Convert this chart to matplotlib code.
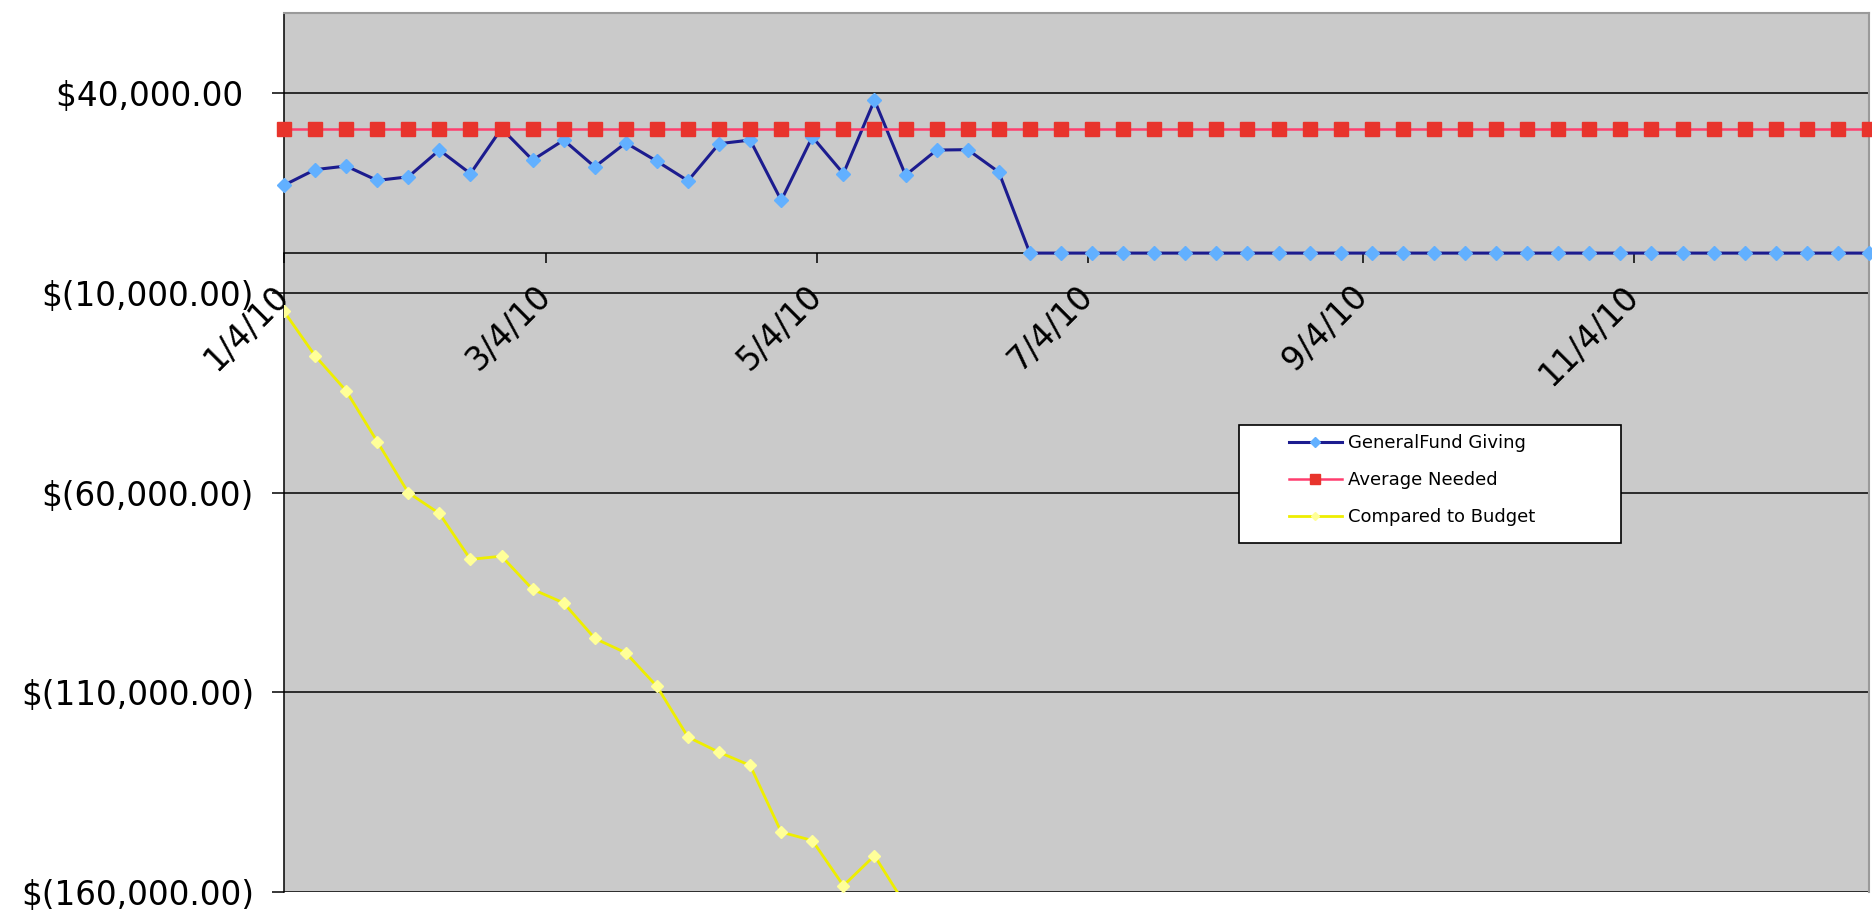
import matplotlib.pyplot as plt
import matplotlib.dates as mdates
from matplotlib.patches import Rectangle
from matplotlib.ticker import FuncFormatter
import pandas as pd

# weekly entries, 2010
dates = pd.date_range("2010-01-04", periods=52, freq="7D")

giving = [17000, 20900, 21800, 18200, 19100, 25800, 19900, 31200, 23300, 28300,
          21600, 27600, 23000, 18100, 27400, 28300, 13200, 29100, 19900, 38300,
          19500, 25800, 25900, 20300, 0] + [0] * 27
needed = [31000] * 52
# only the part above the bottom of the chart is visible
budget = [-14600, -25700, -34500, -47200, -60000, -65200, -76700, -75900, -84200, -87600,
          -96500, -100100, -108500, -121200, -125000, -128300, -145000, -147100, -158400, -150900,
          -163300]

labels = ["GeneralFund Giving", "Average Needed", "Compared to Budget"]
yticks = [-160000, -110000, -60000, -10000, 40000]
fz = 23.5


def money(v, pos):
    if v < 0:
        return "$({:,.2f})".format(abs(v))
    return "${:,.2f} ".format(v)


def short_date(v, pos):
    d = mdates.num2date(v)
    return "{}/{}/{}".format(d.month, d.day, d.strftime("%y"))


fig = plt.figure(figsize=(18.72, 9.18), dpi=100)
ax = fig.add_axes([0.1517, 0.0283, 0.8467, 0.957])
ax.set_facecolor('#cacaca')

ax.plot(dates, giving, color='#1c1c8f', lw=2.2, marker='D', ms=7,
        mfc='#62b0ff', mec='#62b0ff', label=labels[0], clip_on=False, zorder=3)
ax.plot(dates, needed, color='#ff3d6e', lw=1.8, marker='s', ms=10,
        mfc='#e8342c', mec='#e8342c', label=labels[1], clip_on=False, zorder=3)
ax.plot(dates[:len(budget)], budget, color='#eeee00', lw=2, marker='D', ms=6,
        mfc='#ffff99', mec='#ffff99', label=labels[2], zorder=3)

ax.set_xlim(dates[0], dates[-1])
ax.set_ylim(-160000, 60000)
ax.set_yticks(yticks)
ax.yaxis.set_major_formatter(FuncFormatter(money))
ax.grid(axis='y', color='black', lw=1.1)
ax.set_axisbelow(True)

# category axis sits at zero, like the spreadsheet
ax.spines['bottom'].set_position(('data', 0))
ax.spines['bottom'].set_color('black')
ax.spines['bottom'].set_linewidth(1.1)
ax.spines['left'].set_linewidth(1.1)
for s in ['top', 'right']:
    ax.spines[s].set_color('#9a9a9a')
    ax.spines[s].set_linewidth(1.5)

ax.xaxis.set_major_locator(mdates.MonthLocator(bymonth=[1, 3, 5, 7, 9, 11], bymonthday=4))
ax.xaxis.set_major_formatter(FuncFormatter(short_date))
ax.tick_params(axis='x', direction='out', length=7, width=1.1, pad=20.5,
               labelsize=fz, labelrotation=45)
plt.setp(ax.get_xticklabels(), ha='right', va='center', rotation_mode='anchor')
ax.tick_params(axis='y', direction='out', length=8.6, width=1.1, pad=13, labelsize=fz)

ax.add_patch(Rectangle((0.6619, 0.4085), 0.2041, 0.1285, transform=fig.transFigure,
                       facecolor='white', edgecolor='black', lw=1.2, zorder=4, clip_on=False))
ax.legend(loc='upper left', bbox_to_anchor=(1289 / 1872, 0.5267), bbox_transform=fig.transFigure,
          frameon=False, fontsize=13, handlelength=2.92, handletextpad=0.33,
          labelspacing=1.05, borderpad=0, borderaxespad=0, numpoints=1, markerscale=0.75)

fig.savefig("out.png", dpi=100)
plt.close()
